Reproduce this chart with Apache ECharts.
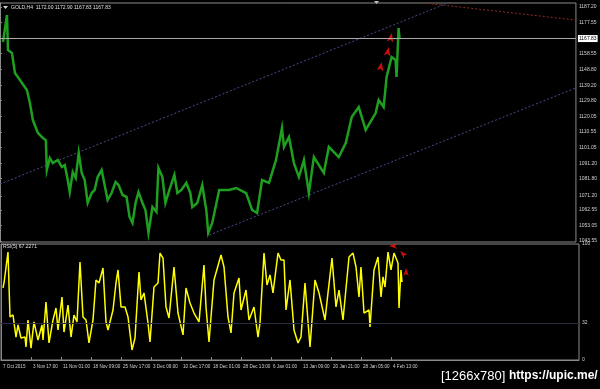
<!DOCTYPE html>
<html><head><meta charset="utf-8">
<script src="https://cdn.jsdelivr.net/npm/echarts@6/dist/echarts.min.js"></script>
<style>html,body{margin:0;padding:0;background:#000;}#c{width:600px;height:389px;}</style>
</head><body><div id="c"></div>
<script>
// ---- data (x = bar slot along the time axis) ----
const priceLine = [
 [3,1165.7],[7,1182.3],[8,1160.8],[12,1159.0],[15,1146.7],[20,1142.4],[27,1136.3],[30,1128.3],
 [33,1117.8],[38,1109.9],[43,1106.8],[46,1105.5],[47,1087.1],[50,1094.5],[53,1091.4],[58,1093.3],
 [62,1089.0],[65,1090.2],[68,1081.0],[70,1073.6],[73,1085.9],[76,1082.2],[79,1097.6],[82,1085.3],
 [85,1081.0],[88,1066.9],[92,1073.0],[95,1074.9],[98,1082.8],[102,1087.1],[104,1081.0],[108,1068.7],
 [112,1073.0],[116,1079.8],[119,1077.9],[123,1071.8],[127,1070.6],[130,1058.3],[133,1054.6],[136,1066.9],
 [139,1073.6],[143,1066.9],[146,1062.6],[149,1048.5],[153,1064.4],[157,1061.4],[159,1088.4],[163,1082.8],
 [166,1066.9],[170,1074.9],[175,1084.1],[178,1073.0],[182,1074.9],[187,1079.2],[191,1073.0],[193,1064.4],
 [198,1066.9],[203,1077.9],[207,1062.6],[209,1048.5],[213,1054.6],[220,1074.9],[230,1074.9],[237,1076.1],
 [247,1073.0],[253,1062.6],[258,1060.7],[263,1081.0],[270,1079.2],[277,1093.3],[283,1112.9],[285,1101.3],
 [290,1107.4],[295,1091.4],[300,1082.8],[305,1093.3],[310,1073.0],[315,1095.1],[325,1085.3],[330,1101.3],
 [340,1095.1],[347,1103.7],[353,1119.7],[360,1125.8],[367,1111.7],[377,1122.1],[380,1130.1],[385,1125.8],
 [388,1144.2],[393,1156.5],[397,1154.7],[398,1144.2],[400,1174.3],[401,1167.83]
];
const rsiLine = [
 [2,62.1],[3,66.4],[7,93.1],[9,37.1],[12,38.8],[15,19.8],[17,30.2],[20,19.0],[24,19.8],[25,11.2],
 [27,34.5],[30,10.3],[33,32.8],[37,17.2],[41,30.2],[42,17.2],[45,50.0],[48,14.7],[52,34.5],[55,44.8],
 [57,25.9],[61,54.3],[63,24.1],[67,47.4],[70,19.8],[73,38.8],[76,32.8],[79,84.5],[82,37.1],[85,34.5],
 [88,14.7],[92,34.5],[95,69.0],[98,66.4],[102,79.3],[105,32.8],[107,25.9],[112,43.1],[115,66.4],[117,77.6],
 [120,45.7],[124,45.7],[127,37.1],[131,8.6],[134,19.0],[138,75.9],[140,51.7],[143,57.8],[147,31.9],[149,15.5],
 [153,62.9],[157,66.4],[159,92.2],[162,87.9],[165,45.7],[168,36.2],[173,80.2],[177,40.5],[182,21.6],[185,62.1],
 [189,49.1],[193,40.5],[198,32.8],[203,81.9],[205,45.7],[208,15.5],[213,69.0],[220,90.5],[223,80.2],[227,37.1],
 [230,23.3],[233,57.8],[238,70.7],[240,43.1],[245,60.3],[248,34.5],[253,45.7],[257,19.8],[259,31.9],[263,92.2],
 [266,64.7],[269,73.3],[272,57.8],[277,92.2],[280,86.2],[283,86.2],[285,43.1],[289,69.0],[293,25.9],[297,14.7],
 [300,19.8],[304,66.4],[309,11.2],[314,69.0],[318,57.8],[324,34.5],[327,57.8],[331,87.9],[335,45.7],[338,60.3],
 [342,34.5],[348,88.8],[352,92.2],[355,80.2],[358,54.3],[360,80.2],[363,40.5],[368,43.1],[369,28.4],[373,77.6],
 [377,88.8],[380,54.3],[382,71.6],[384,62.9],[387,93.1],[390,77.6],[393,92.2],[397,83.6],[398,44.8],[400,77.6],
 [401,67.2]
];
const upperChannel = [[0,1078.5],[578,1221.5]];
const lowerChannel = [[210,1047.2],[578,1137.5]];
const redTrend = [[425,1189.7],[578,1179.2]];
const priceArrows = [[393,1171.2],[390,1162.6],[383,1153.4]];
const rsiArrows = [[388,98.3],[399,94.0],[405,79.3]];
const lastPrice = 1167.83;
const rsiLevel = 32;
const priceTicks = [1187.20,1177.55,1158.55,1148.80,1139.20,1129.80,1120.05,1110.55,1101.05,1091.20,1081.80,1071.20,1062.55,1053.05,1043.55];
const rsiTicks = [0,32,100];
const timeTickPos = [0,30,60,90,120,150,180,210,240,270,300,330,360,390];
const timeLabels = ["7 Oct 2015","3 Nov 17:00","11 Nov 01:00","18 Nov 09:00","25 Nov 17:00","3 Dec 09:00","10 Dec 17:00","18 Dec 01:00","28 Dec 13:00","6 Jan 01:00","13 Jan 09:00","20 Jan 21:00","28 Jan 05:00","4 Feb 13:00"];
const titleText = "GOLD,H4  1172.00 1172.90 1167.83 1167.83";
const rsiText = "RSI(5) 67.2271";

const FONT = "'Liberation Sans Narrow','Liberation Sans',Arial";
const axisGray = '#8a8a8a';
const chart = echarts.init(document.getElementById('c'), null, {renderer:'canvas'});
chart.setOption({
  backgroundColor:'#000',
  animation:false,
  textStyle:{fontFamily:FONT},
  grid:[
    {left:0,right:21,top:3,height:239,show:true,borderColor:axisGray,borderWidth:1,backgroundColor:'#000'},
    {left:0,right:21,top:244,height:116,show:true,borderColor:axisGray,borderWidth:1,backgroundColor:'#000'}
  ],
  xAxis:[
    {gridIndex:0,type:'value',min:0,max:578,show:false},
    {gridIndex:1,type:'value',min:0,max:578,
     axisLine:{show:true,lineStyle:{color:axisGray}},
     axisTick:{show:true,length:3,inside:true,customValues:timeTickPos.slice(1),lineStyle:{color:axisGray}},
     splitLine:{show:false},
     axisLabel:{show:true,customValues:timeTickPos,color:'#d0d0d0',fontSize:4.6,fontFamily:FONT,align:'left',margin:4,padding:[0,0,0,2],
       formatter:v=>timeLabels[timeTickPos.indexOf(v)]||''}}
  ],
  yAxis:[
    {gridIndex:0,type:'value',position:'right',min:1042.93,max:1189.66,
     axisLine:{show:true,lineStyle:{color:axisGray}},
     axisTick:{show:true,length:2,customValues:priceTicks,lineStyle:{color:axisGray}},
     splitLine:{show:false},
     axisLabel:{show:true,customValues:priceTicks,color:'#d0d0d0',fontSize:5,fontFamily:FONT,margin:3,formatter:v=>v.toFixed(2)}},
    {gridIndex:1,type:'value',position:'right',min:0,max:100,
     axisLine:{show:true,lineStyle:{color:axisGray}},
     axisTick:{show:true,length:2,customValues:rsiTicks,lineStyle:{color:axisGray}},
     splitLine:{show:false},
     axisLabel:{show:true,customValues:rsiTicks,color:'#d0d0d0',fontSize:5,fontFamily:FONT,margin:3}}
  ],
  series:[
    {type:'line',xAxisIndex:0,yAxisIndex:0,data:upperChannel,symbol:'none',silent:true,
     lineStyle:{color:'#4a4a8a',width:1,type:[2,2]}},
    {type:'line',xAxisIndex:0,yAxisIndex:0,data:lowerChannel,symbol:'none',silent:true,
     lineStyle:{color:'#4a4a8a',width:1,type:[2,2]}},
    {type:'line',xAxisIndex:0,yAxisIndex:0,data:redTrend,symbol:'none',silent:true,
     lineStyle:{color:'#8a2f1e',width:1,type:[2,2]}},
    {type:'line',xAxisIndex:0,yAxisIndex:0,data:priceLine,symbol:'none',
     lineStyle:{color:'#1f9f1f',width:2.5,join:'miter'},
     markLine:{silent:true,symbol:'none',animation:false,
       lineStyle:{color:'#a8a8a8',width:1,type:'solid'},
       label:{show:true,position:'end',distance:2,formatter:()=>lastPrice.toFixed(2),color:'#000',backgroundColor:'#fff',
         fontSize:5,fontFamily:FONT,padding:[1,1,1,1]},
       data:[{yAxis:lastPrice}]}},
    {type:'scatter',xAxisIndex:0,yAxisIndex:0,data:priceArrows,symbol:'arrow',symbolSize:[5,9],symbolRotate:-10,
     itemStyle:{color:'#ff1010'}},
    {type:'line',xAxisIndex:1,yAxisIndex:1,data:rsiLine,symbol:'none',
     lineStyle:{color:'#ffff00',width:1.5},
     markLine:{silent:true,symbol:'none',animation:false,label:{show:false},
       lineStyle:{color:'#2a2a40',width:1,type:'solid'},data:[{yAxis:rsiLevel}]}},
    {type:'scatter',xAxisIndex:1,yAxisIndex:1,data:rsiArrows,symbol:'arrow',symbolSize:[4,8],
     symbolRotate:function(v,p){return [90,45,0][p.dataIndex];},
     itemStyle:{color:'#ff1010'}}
  ],
  graphic:[
    {type:'polygon',left:3,top:6,shape:{points:[[0,0],[5,0],[2.5,3]]},style:{fill:'#d0d0d0'}},
    {type:'text',left:11,top:5,style:{text:titleText,fill:'#e0e0e0',font:'5px '+FONT}},
    {type:'text',left:3,top:244,style:{text:rsiText,fill:'#e0e0e0',font:'5px '+FONT}},
    {type:'polygon',left:374,top:1,shape:{points:[[0,0],[5,0],[2.5,3]]},style:{fill:'#c0c0c0'}},
    {type:'text',left:441,top:370,style:{text:'[1266x780]',fill:'#ffffff',font:'13px '+FONT}},
    {type:'text',left:509,top:370,style:{text:'https://upic.me/',fill:'#ffffff',font:'bold 12px '+FONT}}
  ]
});
</script></body></html>
